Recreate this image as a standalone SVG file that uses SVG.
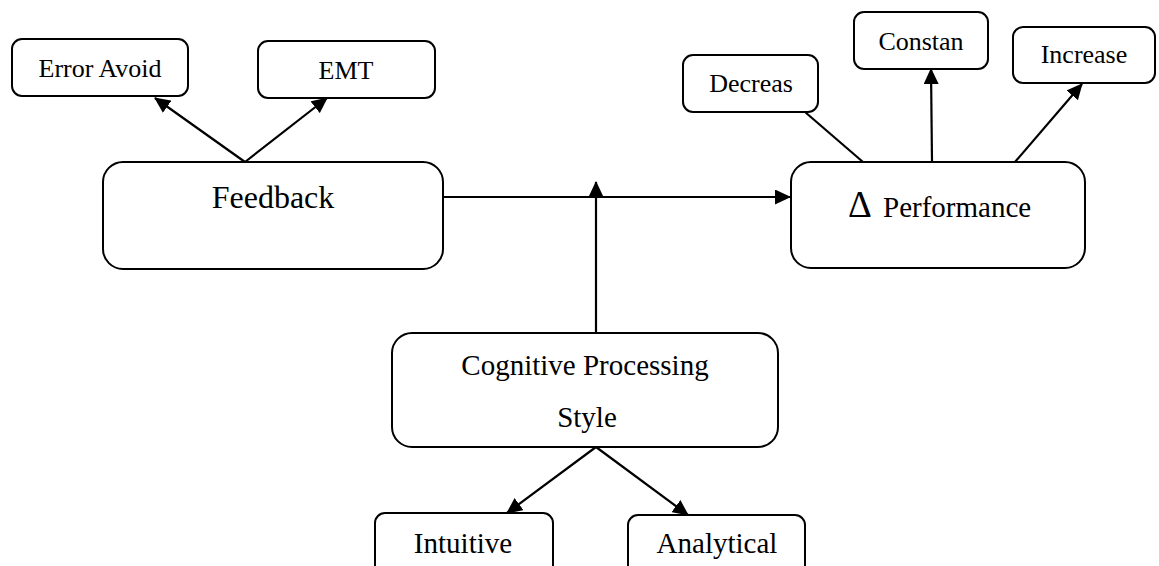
<svg xmlns="http://www.w3.org/2000/svg" width="1159" height="566" viewBox="0 0 1159 566">
  <style>
    .box { fill: #fff; stroke: #000; stroke-width: 2; }
    .lbl { font-family: 'Liberation Serif', 'DejaVu Serif', serif; fill: #000; text-anchor: middle; }
    .sm { font-size: 26px; }
    .md { font-size: 29px; }
    .lg { font-size: 32px; }
    .edge { stroke: #000; stroke-width: 2.2; fill: none; }
    .arr { marker-end: url(#arrow); }
  </style>
  <defs>
    <marker id="arrow" viewBox="0 0 16 15" refX="15" refY="7.5" markerWidth="16" markerHeight="15" markerUnits="userSpaceOnUse" orient="auto">
      <path d="M0,0 L16,7.5 L0,15 Z" fill="#000"/>
    </marker>
  </defs>
  <rect width="1159" height="566" fill="#fff"/>

  <!-- connectors -->
  <g id="connectors">
    <line class="edge arr" x1="245" y1="162" x2="155" y2="98"/>
    <line class="edge arr" x1="245" y1="162" x2="327" y2="98"/>
    <line class="edge arr" x1="443" y1="197" x2="790" y2="197"/>
    <line class="edge arr" x1="596" y1="333" x2="596" y2="182"/>
    <line class="edge" x1="805" y1="112" x2="863" y2="162"/>
    <line class="edge arr" x1="932" y1="162" x2="931" y2="69"/>
    <line class="edge arr" x1="1015" y1="162" x2="1082" y2="84"/>
    <line class="edge arr" x1="596" y1="447" x2="507" y2="513"/>
    <line class="edge arr" x1="596" y1="447" x2="688" y2="515"/>
  </g>

  <g font-family="Liberation Serif, DejaVu Serif, serif">
  <g id="error-avoid">
    <rect class="box" x="12" y="39" width="176" height="57" rx="10"/>
    <text class="lbl sm" x="100" y="77">Error Avoid</text>
  </g>
  <g id="emt">
    <rect class="box" x="258" y="41" width="177" height="57" rx="10"/>
    <text class="lbl sm" x="346" y="79">EMT</text>
  </g>
  <g id="feedback">
    <rect class="box" x="103" y="162" width="340" height="107" rx="20"/>
    <text class="lbl lg" x="273" y="208">Feedback</text>
  </g>
  <g id="decreas">
    <rect class="box" x="683" y="55" width="135" height="57" rx="10"/>
    <text class="lbl sm" x="751" y="92">Decreas</text>
  </g>
  <g id="constan">
    <rect class="box" x="854" y="12" width="134" height="57" rx="10"/>
    <text class="lbl sm" x="921" y="50">Constan</text>
  </g>
  <g id="increase">
    <rect class="box" x="1013" y="27" width="142" height="56" rx="10"/>
    <text class="lbl sm" x="1084" y="63">Increase</text>
  </g>
  <g id="performance">
    <rect class="box" x="791" y="162" width="294" height="106" rx="20"/>
    <text class="lbl" style="text-anchor:start" y="217"><tspan x="848" font-size="37">Δ</tspan><tspan x="883" font-size="29">Performance</tspan></text>
  </g>
  <g id="cognitive">
    <rect class="box" x="392" y="333" width="386" height="114" rx="20"/>
    <text class="lbl md" x="585" y="375">Cognitive Processing</text>
    <text class="lbl md" x="587" y="427">Style</text>
  </g>
  <g id="intuitive">
    <rect class="box" x="375" y="513" width="178" height="70" rx="10"/>
    <text class="lbl md" x="463" y="553">Intuitive</text>
  </g>
  <g id="analytical">
    <rect class="box" x="628" y="515" width="177" height="70" rx="10"/>
    <text class="lbl md" x="717" y="553">Analytical</text>
  </g>
  </g>
</svg>
